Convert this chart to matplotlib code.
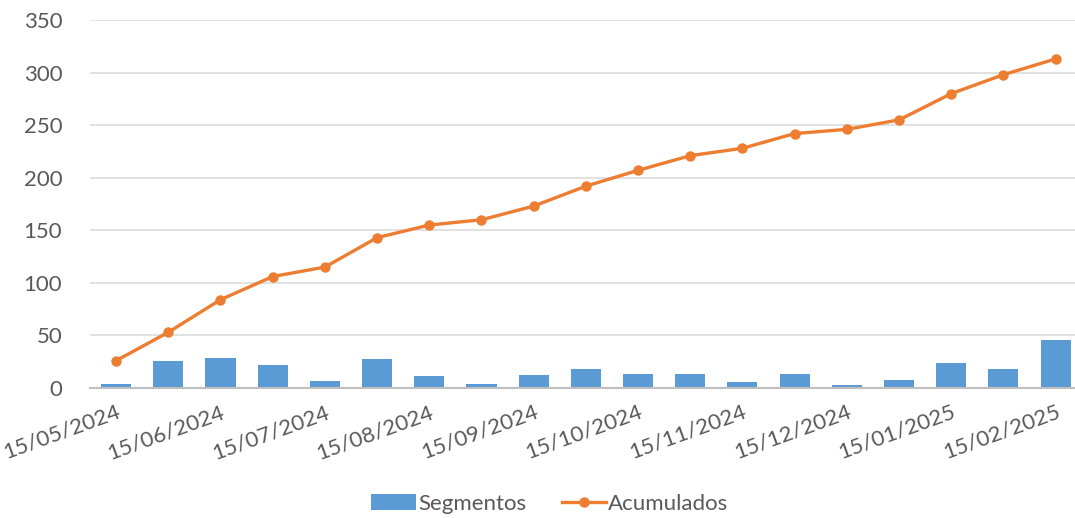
import matplotlib
matplotlib.use("Agg")
import matplotlib.pyplot as plt
import numpy as np

# Daten
fechas = ["15/05/2024", "", "15/06/2024", "", "15/07/2024", "", "15/08/2024", "",
          "15/09/2024", "", "15/10/2024", "", "15/11/2024", "", "15/12/2024", "",
          "15/01/2025", "", "15/02/2025"]
segmentos = [4, 26, 29, 22, 7, 28, 11, 4, 12, 18, 13, 13, 6, 13, 3, 8, 24, 18, 46]
acumulados = [26, 53, 84, 106, 115, 143, 155, 160, 173, 192, 207, 221, 228, 242,
              246, 255, 280, 298, 313]

plt.rcParams['font.family'] = ['Lato', 'DejaVu Sans']
gris = '#595959'

fig = plt.figure(figsize=(10.75, 5.18), dpi=100)
ax = fig.add_axes([90/1075, 130/518, 985/1075, 368/518])

x = np.arange(len(segmentos))
barras = ax.bar(x, segmentos, width=0.575, color='#5B9BD5', label='Segmentos', zorder=2)
linea, = ax.plot(x, acumulados, color='#ED7D31', lw=2.4, marker='o', markersize=6.5,
                 label='Acumulados', zorder=3)

ax.set_xlim(-0.5, 18.37)
ax.set_ylim(0, 350)
ax.set_yticks(np.arange(0, 351, 50))
ax.grid(axis='y', color='#D9D9D9', lw=1.1, zorder=0)
ax.set_axisbelow(True)
for s in ['left', 'right', 'top']:
    ax.spines[s].set_visible(False)
ax.spines['bottom'].set_color('#BFBFBF')
ax.spines['bottom'].set_linewidth(1.5)

ax.tick_params(axis='y', length=0, pad=20, labelsize=16, labelcolor=gris)
ax.tick_params(axis='x', length=0, pad=10, labelsize=16, labelcolor=gris)
ax.set_xticks(x)
ax.set_xticklabels(fechas, rotation=20, ha='right', va='top', rotation_mode='anchor')

leg = ax.legend([barras, linea], ['Segmentos', 'Acumulados'],
                loc='center', bbox_to_anchor=(0.467, -0.315), ncol=2, frameon=False,
                fontsize=16, labelcolor=gris, handlelength=2.0, columnspacing=1.6,
                handletextpad=0.1)

fig.savefig('out.png', dpi=100)
